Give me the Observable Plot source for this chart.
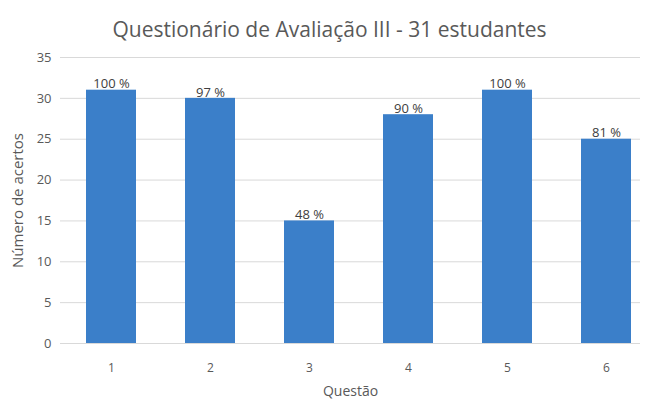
<!DOCTYPE html>
<html>
<head>
<meta charset="utf-8">
<script src="https://cdn.jsdelivr.net/npm/d3@7"></script>
<script src="https://cdn.jsdelivr.net/npm/@observablehq/plot@0.6"></script>
<style>
  html, body { margin: 0; padding: 0; background: #fff; }
  #title { height: 44px; width: 647px; text-align: center; font-family: "Open Sans", sans-serif; font-size: 21px; color: #595959; line-height: 24px; padding-top: 17px; padding-left: 12px; box-sizing: border-box; white-space: nowrap; }
  svg { display: block; }
</style>
</head>
<body>
<div id="title">Questionário de Avaliação III - 31 estudantes</div>
<div id="chart"></div>
<script>
const questions = ["1", "2", "3", "4", "5", "6"];
const acertos = [31, 30, 15, 28, 31, 25];
const percentLabels = ["100 %", "97 %", "48 %", "90 %", "100 %", "81 %"];
const yTicks = [0, 5, 10, 15, 20, 25, 30, 35];
const xTitle = "Questão";
const yTitle = "Número de acertos";

const data = questions.map((q, i) => ({ q, v: acertos[i], label: percentLabels[i] }));

const chart = Plot.plot({
  width: 647,
  height: 357,
  marginTop: 13,
  marginBottom: 58,
  marginLeft: 60,
  marginRight: 7,
  style: { fontFamily: "Open Sans, sans-serif", fontSize: "12px", color: "#595959", background: "#fff" },
  x: { domain: questions, range: [60.4, 655.6], paddingInner: 0.5, paddingOuter: 0.25, label: null, tickSize: 0 },
  y: { domain: [0, 35], ticks: yTicks, label: null, tickSize: 0 },
  marks: [
    Plot.ruleY(yTicks, { stroke: "#d9d9d9", strokeWidth: 1 }),
    Plot.barY(data, { x: "q", y: "v", fill: "#3b7fc9" }),
    Plot.text(data, { x: "q", y: "v", text: "label", dy: -6, fontSize: 13, fill: "#404040" }),
    Plot.axisY({ ticks: yTicks, tickSize: 0, tickPadding: 9, fontSize: 13, label: null }),
    Plot.axisX({ tickSize: 0, tickPadding: 20, fontSize: 12, label: null }),
    Plot.text([xTitle], { text: d => d, frameAnchor: "bottom", dy: 52, fontSize: 14, fill: "#595959" }),
    Plot.text([yTitle], { text: d => d, frameAnchor: "left", textAnchor: "middle", dx: -42, rotate: -90, fontSize: 15, fill: "#595959" })
  ]
});
document.getElementById("chart").appendChild(chart);
</script>
</body>
</html>
